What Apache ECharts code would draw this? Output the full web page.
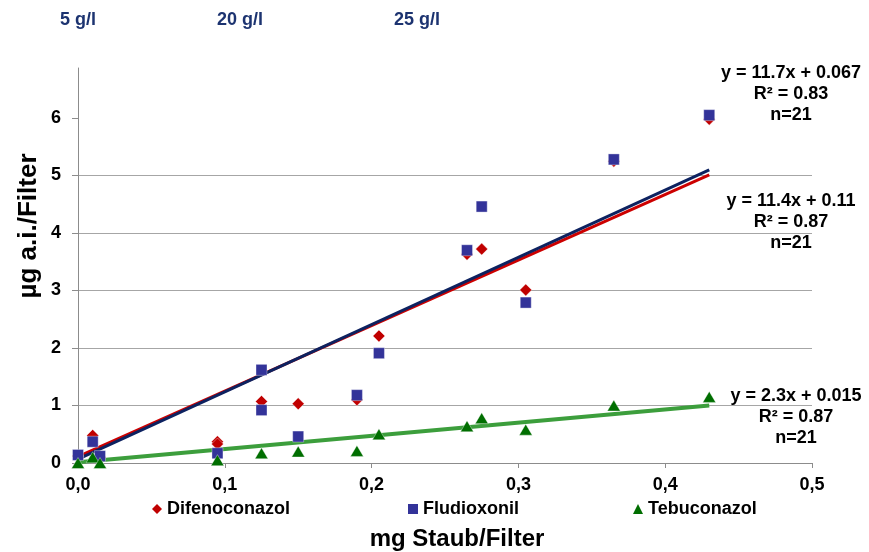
<!DOCTYPE html>
<html>
<head>
<meta charset="utf-8">
<script src="https://cdn.jsdelivr.net/npm/echarts@6/dist/echarts.min.js"></script>
<style>html,body{margin:0;padding:0;background:#fff;}#c{width:869px;height:552px;}</style>
</head>
<body>
<div id="c"></div>
<script>
// ---- data ----
const seriesNames = ['Difenoconazol', 'Fludioxonil', 'Tebuconazol'];
const headerLabels = ['5 g/l', '20 g/l', '25 g/l'];
const yTicks = [0, 1, 2, 3, 4, 5, 6];

const xDifeno = [0, 0.01, 0.015, 0.095, 0.095, 0.125, 0.15, 0.19, 0.205, 0.265, 0.275, 0.305, 0.365, 0.43];
const yDifeno = [0.12, 0.48, 0.10, 0.37, 0.33, 1.07, 1.03, 1.10, 2.21, 3.63, 3.72, 3.01, 5.25, 5.98];

const xFlud = [0, 0.01, 0.015, 0.095, 0.125, 0.125, 0.15, 0.19, 0.205, 0.265, 0.275, 0.305, 0.365, 0.43];
const yFlud = [0.14, 0.37, 0.12, 0.17, 0.92, 1.62, 0.46, 1.18, 1.91, 3.70, 4.46, 2.79, 5.28, 6.05];

const xTebu = [0, 0.01, 0.015, 0.095, 0.125, 0.15, 0.19, 0.205, 0.265, 0.275, 0.305, 0.365, 0.43];
const yTebu = [0.0, 0.10, 0.0, 0.05, 0.17, 0.20, 0.21, 0.50, 0.64, 0.78, 0.58, 1.00, 1.15];

// trend line end points
const trendDifeno = [[0, 0.11], [0.43, 5.01]];
const trendFlud = [[0, 0.067], [0.43, 5.10]];
const trendTebu = [[0, 0.015], [0.43, 1.0]];

const eqFlud = 'y = 11.7x + 0.067\nR² = 0.83\nn=21';
const eqDifeno = 'y = 11.4x + 0.11\nR² = 0.87\nn=21';
const eqTebu = 'y = 2.3x + 0.015\nR² = 0.87\nn=21';

// ---- chart ----
const FONT = "'Liberation Sans', Arial, sans-serif";
const pts = (xs, ys) => xs.map((x, i) => [x, ys[i]]);
const chart = echarts.init(document.getElementById('c'), null, {renderer: 'canvas'});

function legendAt(name, left) {
  return {
    data: [name], left: left, top: 495, itemWidth: 10, itemHeight: 10, itemGap: 5,
    itemStyle: {opacity: 1, borderWidth: 0},
    textStyle: {fontFamily: FONT, fontSize: 18, fontWeight: 'bold', color: '#000'}
  };
}

const option = {
  backgroundColor: '#fff',
  animation: false,
  grid: {left: 78, right: 57, top: 68, bottom: 89},
  legend: [legendAt(seriesNames[0], 147), legendAt(seriesNames[1], 403), legendAt(seriesNames[2], 628)],
  xAxis: {
    type: 'value', min: 0, max: 0.5, interval: 0.1,
    axisLine: {show: true, onZero: false, lineStyle: {color: '#8c8c8c', width: 1}},
    axisTick: {show: true, length: 5, lineStyle: {color: '#8c8c8c'}},
    splitLine: {show: false},
    axisLabel: {
      margin: 13, color: '#000', fontFamily: FONT, fontSize: 18, fontWeight: 'bold',
      formatter: v => v.toFixed(1).replace('.', ',')
    }
  },
  yAxis: {
    type: 'value', min: 0, max: 6.87,
    axisLine: {show: true, lineStyle: {color: '#8c8c8c', width: 1}},
    axisTick: {show: true, length: 6, customValues: yTicks, lineStyle: {color: '#8c8c8c'}},
    splitLine: {show: true, showMaxLine: false, lineStyle: {color: '#a6a6a6', width: 1}},
    axisLabel: {
      margin: 17, color: '#000', fontFamily: FONT, fontSize: 18, fontWeight: 'bold',
      customValues: yTicks, formatter: v => String(v)
    }
  },
  series: [
    {name: 'trendDifeno', type: 'line', data: trendDifeno, symbol: 'none', silent: true, z: 2,
     lineStyle: {color: '#cc0000', width: 3}},
    {name: 'trendFlud', type: 'line', data: trendFlud, symbol: 'none', silent: true, z: 3,
     lineStyle: {color: '#0d2260', width: 3}},
    {name: 'trendTebu', type: 'line', data: trendTebu, symbol: 'none', silent: true, z: 2,
     lineStyle: {color: '#3c9e3c', width: 4}},
    {name: seriesNames[0], type: 'scatter', data: pts(xDifeno, yDifeno), symbol: 'diamond', symbolSize: 12, z: 5,
     itemStyle: {color: '#c00000', opacity: 1, borderColor: 'rgba(255,255,255,0.6)', borderWidth: 0.6}},
    {name: seriesNames[1], type: 'scatter', data: pts(xFlud, yFlud), symbol: 'rect', symbolSize: 11, z: 6,
     itemStyle: {color: '#333399', opacity: 1, borderColor: 'rgba(255,255,255,0.6)', borderWidth: 0.6}},
    {name: seriesNames[2], type: 'scatter', data: pts(xTebu, yTebu), symbol: 'triangle', symbolSize: [13, 11], z: 7,
     itemStyle: {color: '#006e00', opacity: 1, borderColor: 'rgba(255,255,255,0.6)', borderWidth: 0.6}}
  ],
  graphic: [
    {type: 'text', left: 60, top: 11, style: {text: headerLabels[0], fill: '#1c3370', font: "bold 18px " + FONT}},
    {type: 'text', left: 217, top: 11, style: {text: headerLabels[1], fill: '#1c3370', font: "bold 18px " + FONT}},
    {type: 'text', left: 394, top: 11, style: {text: headerLabels[2], fill: '#1c3370', font: "bold 18px " + FONT}},
    {type: 'text', x: 791, y: 94, style: {text: eqFlud, fill: '#000', font: "bold 18px " + FONT, lineHeight: 21, textAlign: 'center', textVerticalAlign: 'middle'}},
    {type: 'text', x: 791, y: 222, style: {text: eqDifeno, fill: '#000', font: "bold 18px " + FONT, lineHeight: 21, textAlign: 'center', textVerticalAlign: 'middle'}},
    {type: 'text', x: 796, y: 417, style: {text: eqTebu, fill: '#000', font: "bold 18px " + FONT, lineHeight: 21, textAlign: 'center', textVerticalAlign: 'middle'}},
    {type: 'text', x: 457, y: 539, style: {text: 'mg Staub/Filter', fill: '#000', font: "bold 24px " + FONT, textAlign: 'center', textVerticalAlign: 'middle'}},
    {type: 'text', x: 29, y: 226, rotation: Math.PI / 2, style: {text: 'µg a.i./Filter', fill: '#000', font: "bold 26px " + FONT, textAlign: 'center', textVerticalAlign: 'middle'}}
  ]
};
chart.setOption(option);
</script>
</body>
</html>
